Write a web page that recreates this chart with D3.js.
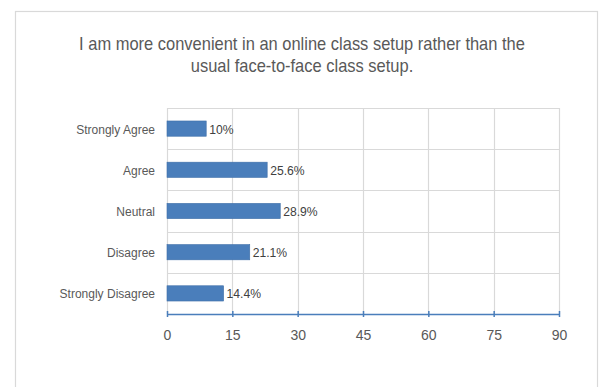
<!DOCTYPE html>
<html>
<head>
<meta charset="utf-8">
<script src="https://cdn.jsdelivr.net/npm/d3@7"></script>
<style>
  html, body { margin: 0; padding: 0; background: #fff; }
  svg { display: block; }
  text { font-family: "Liberation Sans", Arial, sans-serif; }
</style>
</head>
<body>
<svg id="chart" width="602" height="387"></svg>
<script>
// Survey responses: number of respondents per answer (90 in total)
const categories = ["Strongly Agree", "Agree", "Neutral", "Disagree", "Strongly Disagree"];
const counts = [9, 23, 26, 19, 13];
const xTicks = [0, 15, 30, 45, 60, 75, 90];
const titleLines = [
  "I am more convenient in an online class setup rather than the",
  "usual face-to-face class setup."
];

const total = d3.sum(counts);
const pctLabel = d => {
  const p = d / total * 100;
  return (Math.abs(p - Math.round(p)) < 0.05 ? Math.round(p) : p.toFixed(1)) + "%";
};

const svg = d3.select("#chart");

// condensed look: squeeze text horizontally around its anchor point
function squeeze(sel, sx) {
  sel.each(function () {
    const t = d3.select(this);
    const x = +t.attr("x") || 0, y = +t.attr("y") || 0;
    t.attr("transform", `translate(${x},${y}) scale(${sx},1) translate(${-x},${-y})`);
  });
}

// chart frame
svg.append("rect")
  .attr("x", 15.5).attr("y", 11.5)
  .attr("width", 582).attr("height", 390)
  .attr("fill", "#fff")
  .attr("stroke", "#d9d9d9").attr("stroke-width", 1.2);

// title
titleLines.forEach((t, i) => {
  svg.append("text")
    .attr("class", "title")
    .attr("x", 302).attr("y", 50 + i * 22)
    .attr("text-anchor", "middle")
    .attr("fill", "#595959")
    .attr("font-size", 18)
    .text(t);
});
squeeze(svg.selectAll("text.title"), 0.915);

const plot = { left: 167, right: 559, top: 108, bottom: 314 };

const x = d3.scaleLinear().domain([0, 90]).range([plot.left, plot.right]);
const y = d3.scaleBand().domain(categories).range([plot.top, plot.bottom]);

const g = svg.append("g");

// vertical gridlines
g.selectAll("line.vgrid").data(xTicks).join("line")
  .attr("class", "vgrid")
  .attr("x1", d => Math.round(x(d)) + 0.5).attr("x2", d => Math.round(x(d)) + 0.5)
  .attr("y1", plot.top).attr("y2", plot.bottom)
  .attr("stroke", "#d9d9d9").attr("stroke-width", 1.2);

// horizontal lines between categories
g.selectAll("line.hgrid").data(categories).join("line")
  .attr("class", "hgrid")
  .attr("x1", plot.left).attr("x2", plot.right)
  .attr("y1", d => Math.round(y(d)) + 0.5).attr("y2", d => Math.round(y(d)) + 0.5)
  .attr("stroke", "#d9d9d9").attr("stroke-width", 1.2);

// bars
const barH = y.bandwidth() * 0.37;
g.selectAll("rect.bar").data(counts).join("rect")
  .attr("class", "bar")
  .attr("x", x(0))
  .attr("y", (d, i) => y(categories[i]) + (y.bandwidth() - barH) / 2)
  .attr("width", d => x(d) - x(0))
  .attr("height", barH)
  .attr("fill", "#4a7ebb")
  .attr("stroke", "#3f6fa8").attr("stroke-width", 0.6);

// value labels (share of all respondents)
g.selectAll("text.val").data(counts).join("text")
  .attr("class", "val")
  .attr("x", d => x(d) + 3)
  .attr("y", (d, i) => y(categories[i]) + y.bandwidth() / 2 + 5)
  .attr("font-size", 13.5)
  .attr("fill", "#404040")
  .text(pctLabel)
  .call(squeeze, 0.9);

// category labels
g.selectAll("text.cat").data(categories).join("text")
  .attr("class", "cat")
  .attr("x", plot.left - 12)
  .attr("y", d => y(d) + y.bandwidth() / 2 + 5)
  .attr("text-anchor", "end")
  .attr("font-size", 13.5)
  .attr("fill", "#595959")
  .text(d => d)
  .call(squeeze, 0.89);

// x axis
const axis = d3.axisBottom(x).tickValues(xTicks).tickSizeInner(3).tickSizeOuter(0).tickPadding(13);
const ax = svg.append("g").attr("transform", `translate(0,${plot.bottom})`).call(axis);
ax.attr("font-family", null).attr("font-size", null);
ax.select(".domain").attr("stroke", "#4a7ebb").attr("stroke-width", 1.5);
ax.selectAll(".tick line").attr("stroke", "#4a7ebb").attr("stroke-width", 1.5).attr("y1", -3);
ax.selectAll(".tick text")
  .attr("font-size", 14)
  .attr("fill", "#595959");
</script>
</body>
</html>
